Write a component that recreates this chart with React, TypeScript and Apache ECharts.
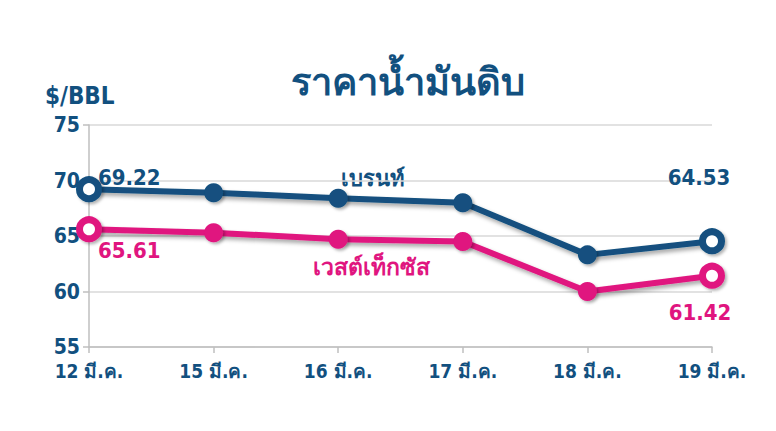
import React, { useEffect, useRef } from "react";
import * as echarts from "echarts";

const days = ["12 มี.ค.", "15 มี.ค.", "16 มี.ค.", "17 มี.ค.", "18 มี.ค.", "19 มี.ค."];
const brent = [69.22, 68.9, 68.4, 68.0, 63.3, 64.53];
const wti = [65.61, 65.3, 64.7, 64.5, 60.0, 61.42];
const yTicks = [55, 60, 65, 70, 75];

const NAVY = "#12507f";
const PINK = "#e0157f";
const FONT = "'DejaVu Sans Condensed', 'DejaVu Sans', 'Noto Sans', sans-serif";

// label placement for the first and last point of each line: [position, offset]
type EndLabel = { position: string; offset: number[] };

function buildSeries(name: string, values: number[], color: string, first: EndLabel, lastLbl: EndLabel) {
  const last = values.length - 1;
  return {
    name,
    type: "line",
    symbol: "circle",
    z: 3,
    data: values.map((v, i) => {
      const ends = i === 0 || i === last;
      const lbl = i === 0 ? first : lastLbl;
      return {
        value: v,
        symbolSize: 19,
        itemStyle: ends
          ? { color: "#ffffff", borderColor: color, borderWidth: 7 }
          : { color, borderColor: color, borderWidth: 0 },
        label: ends
          ? {
              show: true,
              position: lbl.position,
              offset: lbl.offset,
              distance: 0,
              formatter: (p: any) => Number(p.value).toFixed(2),
              color,
              fontSize: 22,
              fontWeight: "bold",
              fontFamily: FONT,
            }
          : { show: false },
      };
    }),
    lineStyle: {
      color,
      width: 6,
      shadowColor: "rgba(0,0,0,0.35)",
      shadowBlur: 4,
      shadowOffsetX: 2,
      shadowOffsetY: 3,
    },
    itemStyle: {
      color,
      shadowColor: "rgba(0,0,0,0.3)",
      shadowBlur: 3,
      shadowOffsetX: 2,
      shadowOffsetY: 2,
    },
  };
}

export default function App() {
  const ref = useRef<HTMLDivElement>(null);
  useEffect(() => {
    if (!ref.current) return;
    const chart = echarts.init(ref.current, undefined, { renderer: "svg" });
    chart.setOption({
      animation: false,
      backgroundColor: "#ffffff",
      grid: { left: 89, right: 64, top: 125, bottom: 84 },
      title: {
        text: "ราคาน้ำมันดิบ",
        left: 403,
        textAlign: "center",
        top: 58,
        textStyle: { color: NAVY, fontSize: 38, fontWeight: "bold", fontFamily: FONT },
      },
      graphic: [
        {
          type: "text",
          left: 45,
          top: 84,
          style: { text: "$/BBL", fill: NAVY, fontSize: 24, fontWeight: "bold", fontFamily: FONT },
        },
        {
          type: "text",
          x: 373,
          y: 178,
          style: {
            text: "เบรนท์",
            fill: NAVY,
            fontSize: 22,
            fontWeight: "bold",
            fontFamily: FONT,
            align: "center",
            verticalAlign: "middle",
          },
        },
        {
          type: "text",
          x: 371,
          y: 267,
          style: {
            text: "เวสต์เท็กซัส",
            fill: PINK,
            fontSize: 23,
            fontWeight: "bold",
            fontFamily: FONT,
            align: "center",
            verticalAlign: "middle",
          },
        },
      ],
      xAxis: {
        type: "category",
        data: days,
        boundaryGap: false,
        axisLine: { lineStyle: { color: "#bfbfbf", width: 1.5 } },
        axisTick: { show: true, length: 6, lineStyle: { color: "#bfbfbf", width: 1.5 } },
        axisLabel: {
          color: NAVY,
          fontSize: 19,
          fontWeight: "bold",
          fontFamily: FONT,
          margin: 14,
        },
        splitLine: { show: false },
      },
      yAxis: {
        type: "value",
        min: yTicks[0],
        max: yTicks[yTicks.length - 1],
        interval: 5,
        axisLine: { show: true, lineStyle: { color: "#bfbfbf", width: 1.5 } },
        axisTick: { show: true, length: 6, lineStyle: { color: "#bfbfbf", width: 1.5 } },
        axisLabel: {
          color: NAVY,
          fontSize: 21,
          fontWeight: "bold",
          fontFamily: FONT,
          margin: 9,
        },
        splitLine: { lineStyle: { color: "#d9d9d9", width: 1.5 } },
      },
      series: [
        buildSeries(
          "เบรนท์",
          brent,
          NAVY,
          { position: "right", offset: [-4, -12] },
          { position: "top", offset: [-13, -40] }
        ),
        buildSeries(
          "เวสต์เท็กซัส",
          wti,
          PINK,
          { position: "right", offset: [-4, 21] },
          { position: "bottom", offset: [-12, 13] }
        ),
      ],
    });
    return () => chart.dispose();
  }, []);
  return <div ref={ref} style={{ width: 776, height: 431, margin: -8 }} />;
}
